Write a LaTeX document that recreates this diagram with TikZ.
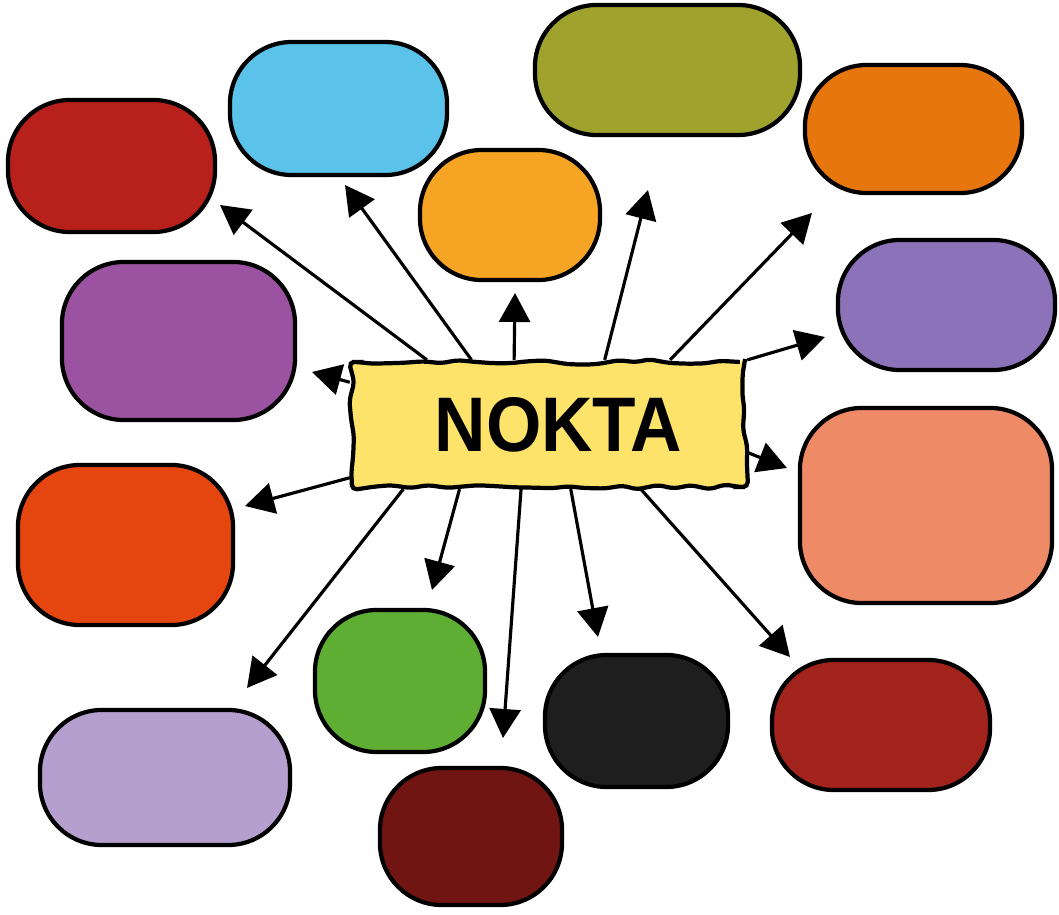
\documentclass[tikz,border=0pt]{standalone}
\usepackage{fontspec}
\newfontfamily\noktafont[FakeStretch=0.92]{Liberation Sans}
\usetikzlibrary{arrows.meta, decorations.pathmorphing}

\definecolor{noktayellow}{HTML}{FDE36A}
\definecolor{cDarkred}{HTML}{B8211B}
\definecolor{cSkyblue}{HTML}{5BC2EA}
\definecolor{cOlive}{HTML}{A0A22E}
\definecolor{cOrange}{HTML}{E8760E}
\definecolor{cAmber}{HTML}{F5A424}
\definecolor{cPurple}{HTML}{9B52A0}
\definecolor{cViolet}{HTML}{8C72B8}
\definecolor{cRedorange}{HTML}{E5450F}
\definecolor{cSalmon}{HTML}{EE8B66}
\definecolor{cGreen}{HTML}{5DAE33}
\definecolor{cLilac}{HTML}{B49FCF}
\definecolor{cMaroon}{HTML}{701512}
\definecolor{cCoal}{HTML}{1E1E1E}
\definecolor{cRust}{HTML}{A1231B}

\tikzset{
    base/.style = {
        draw=black, line width=1.2pt, inner sep=0pt
    },
    % Components
    blob/.style = {base, rectangle, rounded corners=0.62cm},
    core/.style = {base, rectangle, fill=noktayellow,
        minimum width=3.93cm, minimum height=1.25cm,
        decorate, decoration={random steps, segment length=5pt, amplitude=0.8pt},
        rounded corners=1.5pt, font=\noktafont\bfseries\fontsize{22}{26}\selectfont},
    % Edges
    arrow/.style = {line width=0.9pt, -{Triangle[length=0.29cm, width=0.31cm]}}
}

\begin{document}
\begin{tikzpicture}[x=0.01cm, y=-0.01cm]
    \useasboundingbox (0,0) rectangle (1059,915);

    % Blobs
    \node (darkred)   [blob, fill=cDarkred,   minimum width=2.07cm, minimum height=1.32cm] at (111.5,166)   {};
    \node (skyblue)   [blob, fill=cSkyblue,   minimum width=2.17cm, minimum height=1.33cm] at (338.5,108.5) {};
    \node (olive)     [blob, fill=cOlive,     minimum width=2.65cm, minimum height=1.30cm] at (667.5,70)    {};
    \node (orange)    [blob, fill=cOrange,    minimum width=2.17cm, minimum height=1.28cm] at (913.5,129)   {};
    \node (amber)     [blob, fill=cAmber,     minimum width=1.80cm, minimum height=1.30cm] at (510,215)     {};
    \node (purple)    [blob, fill=cPurple,    minimum width=2.33cm, minimum height=1.58cm] at (178.5,341)   {};
    \node (violet)    [blob, fill=cViolet,    minimum width=2.17cm, minimum height=1.30cm] at (946.5,305)   {};
    \node (redorange) [blob, fill=cRedorange, minimum width=2.15cm, minimum height=1.60cm] at (125.5,545)   {};
    \node (salmon)    [blob, fill=cSalmon,    minimum width=2.52cm, minimum height=1.95cm] at (926,505.5)   {};
    \node (green)     [blob, fill=cGreen,     minimum width=1.70cm, minimum height=1.42cm] at (400,681)     {};
    \node (lilac)     [blob, fill=cLilac,     minimum width=2.50cm, minimum height=1.35cm] at (165,777.5)   {};
    \node (maroon)    [blob, fill=cMaroon,    minimum width=1.82cm, minimum height=1.37cm] at (471,836.5)   {};
    \node (coal)      [blob, fill=cCoal,      minimum width=1.83cm, minimum height=1.32cm] at (636.5,721)   {};
    \node (rust)      [blob, fill=cRust,      minimum width=2.18cm, minimum height=1.30cm] at (881,725)     {};

    % Centre
    \node (nokta) [core] at (548.5,424.5) {\hspace*{0.2cm}\raisebox{-0.11cm}{NOKTA}};

    % Arrow tips
    \coordinate (toDarkred)   at (220,205);
    \coordinate (toSkyblue)   at (345,185);
    \coordinate (toAmber)     at (515,293);
    \coordinate (toOlive)     at (648,190);
    \coordinate (toOrange)    at (812,213);
    \coordinate (toViolet)    at (825,337);
    \coordinate (toSalmon)    at (787,468);
    \coordinate (toPurple)    at (312,372);
    \coordinate (toRedorange) at (245,506);
    \coordinate (toGreen)     at (432,590);
    \coordinate (toMaroon)    at (503,738);
    \coordinate (toCoal)      at (598,637);
    \coordinate (toRust)      at (790,657);
    \coordinate (toLilac)     at (247,688);

    % Edges
    \draw [arrow] (nokta.152) -- (toDarkred);
    \draw [arrow] (nokta.140) -- (toSkyblue);
    \draw [arrow] (nokta.118) -- (toAmber);
    \draw [arrow] (nokta.49)  -- (toOlive);
    \draw [arrow] (nokta.28)  -- (toOrange);
    \draw [arrow] (nokta.18)  -- (toViolet);
    \draw [arrow] (nokta.352) -- (toSalmon);
    \draw [arrow] (nokta.168) -- (toPurple);
    \draw [arrow] (nokta.195) -- (toRedorange);
    \draw [arrow] (nokta.216) -- (toGreen);
    \draw [arrow] (nokta.247) -- (toMaroon);
    \draw [arrow] (nokta.289) -- (toCoal);
    \draw [arrow] (nokta.325) -- (toRust);
    \draw [arrow] (nokta.204) -- (toLilac);
\end{tikzpicture}
\end{document}
